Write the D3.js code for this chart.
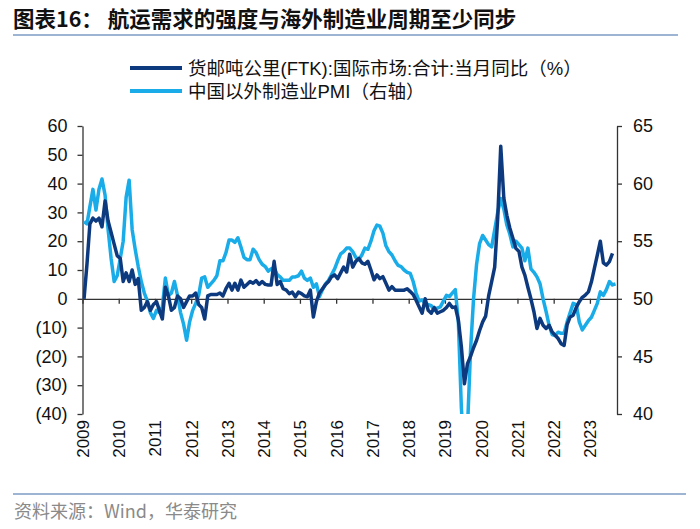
<!DOCTYPE html>
<html><head><meta charset="utf-8">
<script src="https://cdn.jsdelivr.net/npm/d3@7"></script>
<style>
html,body{margin:0;padding:0;background:#fff;}
svg{display:block;}
text{font-family:"Liberation Sans","Noto Sans CJK SC",sans-serif;}
</style></head>
<body>
<svg id="chart" width="700" height="529"></svg>
<script>
// ---- data ----
const titleText = "图表16：  航运需求的强度与海外制造业周期至少同步";
const sourceText = "资料来源：Wind，华泰研究";
const seriesNames = ["货邮吨公里(FTK):国际市场:合计:当月同比（%）", "中国以外制造业PMI（右轴）"];
const startMonth = "2009-01";
const years = ["2009","2010","2011","2012","2013","2014","2015","2016","2017","2018","2019","2020","2021","2022","2023"];
const leftTicks = [-40,-30,-20,-10,0,10,20,30,40,50,60];
const rightTicks = [40,45,50,55,60,65];
// FTK yoy (%) monthly from Jan 2009 (left axis)
const ftk = [0,12,26,28,27,28,25,34,27,23,19,15,
 14,6,9,6,10,5,7,-4,-3,-1,-4,-2,
 -1,-4,-7,4,1,-4,-3,1,0,-3,-1,1,
 1,2,-2,-3,-7,1,1.5,1.5,1.5,2,1,3.5,
 5.4,3,5.4,3,6.5,4,5,6,5.4,6.3,5,6,
 5,4.8,4.8,13,5,6,3.5,3,1.8,2.3,0.7,2.3,
 1.8,1,0.7,3,-6.3,-1,2,3.5,5,6,7.7,8.3,
 7,9,11,9.3,15.5,11,13,14,12.5,12,13,10,
 6.6,8.3,7,7.7,5.4,3,4.2,3,3,3,3,3.5,
 2.5,1.5,-0.5,-2.8,-5,0,-4,-5,-3,-5,-4.5,-4,
 -3,-1.6,-3,-2.8,-7.4,-16.7,-29.5,-22.5,-20,-17,-14.4,-11,
 -8,-6,1,6,11,28,53,35,29,24.5,21,17.5,
 16.4,11,8.2,4,0,-4.5,-10.3,-6.8,-9.2,-10.3,-9.2,-11.5,
 -12.7,-13.8,-15.6,-16.2,-9,-6.3,-5.7,-3,-1,0.5,1.3,2.4,
 5.9,10.6,15.2,20,12.5,11.7,12.9,15.8];
// Manufacturing PMI ex-China monthly from Jan 2009 (right axis)
const pmi = [56.7,56.5,58.0,59.5,57.7,59.5,60.4,59.0,56.0,53.5,51.5,52.0,
 53.5,55.0,58.8,60.3,56.0,54.3,52.8,51.5,50.5,49.8,48.8,48.3,
 49.0,48.8,49.3,51.8,50.3,50.5,51.5,50.3,48.8,47.8,46.4,48.0,
 49.0,49.6,50.3,51.8,51.9,51.0,51.3,51.6,52.0,53.3,53.3,54.0,
 55.1,55.1,54.9,55.3,54.5,53.6,53.4,53.4,54.3,54.0,53.4,53.0,
 52.8,52.4,52.6,52.7,52.1,51.9,51.6,51.6,51.6,51.9,51.9,52.0,
 52.4,51.8,51.6,51.8,51.0,51.3,50.2,50.8,51.3,51.6,52.1,52.6,
 53.3,53.9,54.1,54.4,54.4,54.1,53.6,53.4,53.8,54.4,54.3,55.0,
 55.9,56.4,56.3,55.7,54.6,54.1,53.8,53.3,52.9,52.8,52.5,52.3,
 52.2,51.5,50.5,49.8,49.9,49.6,49.5,49.4,49.0,49.2,49.3,49.8,
 50.3,50.2,50.5,50.8,48.0,40.5,36.3,38.8,45.5,50.0,53.0,54.8,
 55.5,55.1,54.7,54.5,56.0,57.5,58.7,57.8,56.4,55.6,54.5,55.0,
 54.7,54.4,53.3,54.4,52.6,52.3,51.9,51.3,50.0,48.9,47.7,46.9,
 46.8,47.1,47.0,47.0,48.0,48.8,49.6,49.5,48.0,47.3,47.7,48.1,
 48.4,49.0,49.6,50.6,50.3,50.8,51.5,51.2,51.3];

// ---- layout ----
const darkColor = "#0d3a7e", lightColor = "#19ace8", ruleColor = "#7d9cc4";
const svg = d3.select("#chart");
const plot = {left: 82.5, right: 617, top: 126, bottom: 414};
const parse = d3.timeParse("%Y-%m");
const start = parse(startMonth);
const monthDate = (i, half) => {
  const d = d3.timeMonth.offset(start, i);
  return half ? new Date(d.getTime() + (d3.timeMonth.offset(d,1) - d)/2) : d;
};
const nMonths = 177;
const x = d3.scaleTime().domain([start, monthDate(nMonths)]).range([plot.left, plot.right]);
const yL = d3.scaleLinear().domain([-40, 60]).range([plot.bottom, plot.top]);
const yR = d3.scaleLinear().domain([40, 65]).range([plot.bottom, plot.top]);

// title
svg.append("text").attr("x", 13).attr("y", 27).attr("font-size", 21.5).attr("font-weight", "bold")
  .attr("fill", "#111").style("font-family", '"Noto Sans CJK SC",sans-serif').text(titleText);
svg.append("line").attr("x1", 13).attr("x2", 678).attr("y1", 35).attr("y2", 35)
  .attr("stroke", ruleColor).attr("stroke-width", 1.5);

// legend
const legend = [{name: seriesNames[0], color: darkColor, y: 68}, {name: seriesNames[1], color: lightColor, y: 91}];
legend.forEach(l => {
  svg.append("line").attr("x1", 130).attr("x2", 182).attr("y1", l.y).attr("y2", l.y)
    .attr("stroke", l.color).attr("stroke-width", 4);
  svg.append("text").attr("x", 188).attr("y", l.y).attr("dy", "0.36em").attr("font-size", 18.5)
    .attr("fill", "#111").text(l.name);
});

// axes
const fmtL = v => v < 0 ? "(" + Math.abs(v) + ")" : String(v);
const gL = svg.append("g").attr("transform", `translate(${plot.left},0)`)
  .call(d3.axisLeft(yL).tickValues(leftTicks).tickFormat(fmtL).tickSize(5).tickSizeOuter(0).tickPadding(10));
const gR = svg.append("g").attr("transform", `translate(${plot.right},0)`)
  .call(d3.axisRight(yR).tickValues(rightTicks).tickSize(5).tickSizeOuter(0).tickPadding(11));
[gL, gR].forEach(g => {
  g.selectAll("path,line").attr("stroke", "#333").attr("stroke-width", 1.3);
  g.selectAll("text").attr("font-size", 18).attr("fill", "#111").style("font-family", '"Liberation Sans",sans-serif');
});

const yearDates = years.map(y => d3.timeParse("%Y")(y));
const gX = svg.append("g").attr("transform", `translate(0,${yL(0)})`)
  .call(d3.axisBottom(x).tickValues(yearDates).tickFormat("").tickSize(5).tickSizeOuter(0));
gX.selectAll("path,line").attr("stroke", "#333").attr("stroke-width", 1.3);

const gXL = svg.append("g").attr("transform", `translate(0,${plot.bottom})`)
  .call(d3.axisBottom(x).tickValues(yearDates).tickFormat((d,i) => years[i]).tickSize(0));
gXL.select(".domain").remove();
gXL.selectAll("text").attr("font-size", 17).attr("fill", "#111")
  .style("font-family", '"Liberation Sans",sans-serif')
  .attr("transform", "rotate(-90)").attr("text-anchor", "end")
  .attr("x", -6).attr("y", 0).attr("dy", "0.35em");

// clip
svg.append("clipPath").attr("id", "clip").append("rect")
  .attr("x", plot.left).attr("y", plot.top).attr("width", plot.right - plot.left).attr("height", plot.bottom - plot.top);

const lineL = d3.line().x((d,i) => x(monthDate(i, true))).y(d => yL(d));
const lineR = d3.line().x((d,i) => x(monthDate(i, true))).y(d => yR(d));

svg.append("path").datum(pmi).attr("clip-path", "url(#clip)").attr("d", lineR)
  .attr("fill", "none").attr("stroke", lightColor).attr("stroke-width", 3.5).attr("stroke-linejoin", "round");
svg.append("path").datum(ftk).attr("clip-path", "url(#clip)").attr("d", lineL)
  .attr("fill", "none").attr("stroke", darkColor).attr("stroke-width", 3.5).attr("stroke-linejoin", "round");

// source
svg.append("line").attr("x1", 13).attr("x2", 686).attr("y1", 494).attr("y2", 494)
  .attr("stroke", ruleColor).attr("stroke-width", 1.5);
svg.append("text").attr("x", 14).attr("y", 518).attr("font-size", 18).attr("fill", "#8a8a8a")
  .style("font-family", '"Noto Sans CJK SC",sans-serif').text(sourceText);
</script>
</body></html>
